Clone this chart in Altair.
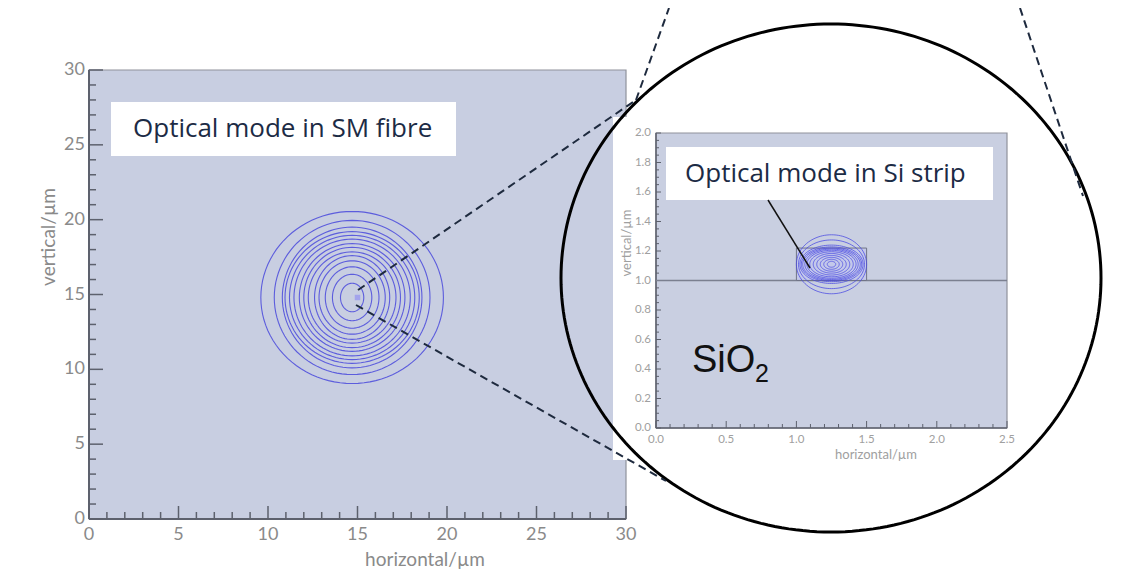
import numpy as np
import pandas as pd
import altair as alt

# ---------------- data ----------------
# SM fibre mode: contour rings (semi-axes in µm), centre in µm
fibre_cx, fibre_cy = 14.7, 14.8
fibre_rx = [5.10, 4.35, 3.90, 3.75, 3.50, 3.25, 2.95, 2.70, 2.45, 2.10, 1.85, 1.50, 1.10, 0.65]
fibre_ry = [5.75, 5.15, 4.70, 4.40, 4.15, 3.90, 3.60, 3.35, 3.05, 2.80, 2.45, 2.05, 1.55, 0.95]
fibre_peak = [15.0, 14.8]

# Si strip mode: contour rings (semi-axes in µm), centre in µm
strip_cx, strip_cy = 1.25, 1.11
strip_rx = [0.250, 0.235, 0.225, 0.215, 0.205, 0.190, 0.175, 0.155, 0.130, 0.105, 0.080, 0.055, 0.030]
strip_ry = [0.200, 0.165, 0.130, 0.118, 0.110, 0.103, 0.095, 0.085, 0.073, 0.060, 0.047, 0.034, 0.020]
strip_x = [1.0, 1.5]
strip_y = [1.0, 1.22]
substrate_top = 1.0

# axes / ticks
main_major = [0, 5, 10, 15, 20, 25, 30]
main_minor = [1, 2, 3, 4, 6, 7, 8, 9, 11, 12, 13, 14, 16, 17, 18, 19, 21, 22, 23, 24, 26, 27, 28, 29]
inset_x_major = [0.0, 0.5, 1.0, 1.5, 2.0, 2.5]
inset_x_minor = [0.1, 0.2, 0.3, 0.4, 0.6, 0.7, 0.8, 0.9, 1.1, 1.2, 1.3, 1.4,
                 1.6, 1.7, 1.8, 1.9, 2.1, 2.2, 2.3, 2.4]
inset_y_major = [0.0, 0.2, 0.4, 0.6, 0.8, 1.0, 1.2, 1.4, 1.6, 1.8, 2.0]
inset_y_minor = [0.05, 0.1, 0.15, 0.25, 0.3, 0.35, 0.45, 0.5, 0.55, 0.65, 0.7, 0.75,
                 0.85, 0.9, 0.95, 1.05, 1.1, 1.15, 1.25, 1.3, 1.35, 1.45, 1.5, 1.55,
                 1.65, 1.7, 1.75, 1.85, 1.9, 1.95]

# ---------------- layout ----------------
W, H = 1114, 566


def px(p):
    return p - 8  # page pixel -> view pixel


def rings(cx, cy, rxs, rys, n=97):
    t = np.linspace(0, 2 * np.pi, n)
    rows = []
    for k, (a, b) in enumerate(zip(rxs, rys)):
        for i, tt in enumerate(t):
            rows.append({"ring": k, "idx": i, "x": cx + a * np.cos(tt), "y": cy + b * np.sin(tt)})
    return pd.DataFrame(rows)


one = pd.DataFrame({"a": [0]})

LABEL_FONT = "Lato"
TEXT_FONT = "Open Sans"
AX = "#5d616d"
LBL = "#8a8a8a"
LBL2 = "#a0a0a0"

MX = alt.Scale(domain=[0, 30], range=[px(89), px(626)], nice=False, zero=False)
MY = alt.Scale(domain=[0, 30], range=[px(519), px(70)], nice=False, zero=False)
IX = alt.Scale(domain=[0, 2.5], range=[px(656), px(1007)], nice=False, zero=False)
IY = alt.Scale(domain=[0, 2.0], range=[px(428), px(133)], nice=False, zero=False)
CX = alt.Scale(domain=[8, 8 + W], range=[0, W], nice=False, zero=False)
CY = alt.Scale(domain=[8, 8 + H], range=[0, H], nice=False, zero=False)


def xticks(vals, scale, y0, length, width=1.5):
    return alt.Chart(pd.DataFrame({"v": vals})).mark_rule(color=AX, strokeWidth=width).encode(
        x=alt.X("v:Q", scale=scale, axis=None),
        y=alt.value(y0), y2=alt.value(y0 - length))


def yticks(vals, scale, x0, length, width=1.5):
    return alt.Chart(pd.DataFrame({"v": vals})).mark_rule(color=AX, strokeWidth=width).encode(
        y=alt.Y("v:Q", scale=scale, axis=None),
        x=alt.value(x0), x2=alt.value(x0 + length))


def xlabels(vals, scale, y0, size, color, fmt):
    return alt.Chart(pd.DataFrame({"v": vals})).mark_text(
        font=LABEL_FONT, fontSize=size, color=color, align="center", baseline="middle").encode(
        x=alt.X("v:Q", scale=scale, axis=None), y=alt.value(y0),
        text=alt.Text("v:Q", format=fmt))


def ylabels(vals, scale, x0, size, color, fmt):
    return alt.Chart(pd.DataFrame({"v": vals})).mark_text(
        font=LABEL_FONT, fontSize=size, color=color, align="right", baseline="middle").encode(
        y=alt.Y("v:Q", scale=scale, axis=None), x=alt.value(x0),
        text=alt.Text("v:Q", format=fmt))


def title(txt, x, y, size, color, angle=0):
    return alt.Chart(one).mark_text(
        font=LABEL_FONT, fontSize=size, color=color, align="center", baseline="middle",
        angle=angle).encode(x=alt.value(x), y=alt.value(y), text=alt.value(txt))


def frame(xs, ys, scale_x, scale_y, fill, width):
    bg = alt.Chart(pd.DataFrame({"x0": [xs[0]], "x1": [xs[1]], "y0": [ys[0]], "y1": [ys[1]]})).mark_rect(
        fill=fill, stroke="#8f929c", strokeWidth=1.2).encode(
        x=alt.X("x0:Q", scale=scale_x, axis=None), x2="x1:Q",
        y=alt.Y("y0:Q", scale=scale_y, axis=None), y2="y1:Q")
    bottom = alt.Chart(pd.DataFrame({"x0": [xs[0]], "x1": [xs[1]], "y": [ys[0]]})).mark_rule(
        color=AX, strokeWidth=width).encode(
        x=alt.X("x0:Q", scale=scale_x, axis=None), x2="x1:Q", y=alt.Y("y:Q", scale=scale_y, axis=None))
    left = alt.Chart(pd.DataFrame({"y0": [ys[0]], "y1": [ys[1]], "x": [xs[0]]})).mark_rule(
        color=AX, strokeWidth=width).encode(
        y=alt.Y("y0:Q", scale=scale_y, axis=None), y2="y1:Q", x=alt.X("x:Q", scale=scale_x, axis=None))
    return [bg, bottom, left]


# ---------------- main plot ----------------
main_rings = alt.Chart(rings(fibre_cx, fibre_cy, fibre_rx, fibre_ry)).mark_line(
    color="#5656dc", strokeWidth=1.1, opacity=0.95).encode(
    x=alt.X("x:Q", scale=MX, axis=None), y=alt.Y("y:Q", scale=MY, axis=None),
    detail="ring:N", order="idx:Q")

main_peak = alt.Chart(pd.DataFrame({"x": [fibre_peak[0]], "y": [fibre_peak[1]]})).mark_square(
    size=30, color="#a3a3ec", opacity=1).encode(
    x=alt.X("x:Q", scale=MX, axis=None), y=alt.Y("y:Q", scale=MY, axis=None))

box1 = alt.Chart(one).mark_rect(fill="white").encode(
    x=alt.value(px(111)), x2=alt.value(px(456)), y=alt.value(px(102)), y2=alt.value(px(156)))
text1 = alt.Chart(one).mark_text(align="left", baseline="middle", font=TEXT_FONT,
                                 fontSize=26, color="#1c2b45").encode(
    x=alt.value(px(133)), y=alt.value(px(129)), text=alt.value("Optical mode in SM fibre"))

main = alt.layer(
    *frame([0, 30], [0, 30], MX, MY, "#c8cee1", 2),
    xticks(main_minor, MX, px(519), 7), xticks(main_major, MX, px(519), 13),
    yticks(main_minor, MY, px(89), 7), yticks(main_major, MY, px(89), 14),
    xlabels(main_major, MX, px(535), 18, LBL, "d"),
    ylabels(main_major, MY, px(85), 18, LBL, "d"),
    title("horizontal/µm", px(425), px(560), 19, LBL),
    title("vertical/µm", px(49), px(237), 19, LBL, angle=270),
    main_rings, main_peak, box1, text1)

# ---------------- inset plot ----------------
inset_paper = alt.Chart(one).mark_rect(fill="white").encode(
    x=alt.value(px(613)), x2=alt.value(px(1012)), y=alt.value(px(117)), y2=alt.value(px(460)))

substrate = alt.Chart(pd.DataFrame({"x0": [0], "x1": [2.5], "y": [substrate_top]})).mark_rule(
    color="#7b8090", strokeWidth=1.5).encode(
    x=alt.X("x0:Q", scale=IX, axis=None), x2="x1:Q", y=alt.Y("y:Q", scale=IY, axis=None))

strip = alt.Chart(pd.DataFrame({"x0": [strip_x[0]], "x1": [strip_x[1]],
                                "y0": [strip_y[0]], "y1": [strip_y[1]]})).mark_rect(
    fill="#c0c4ee", fillOpacity=0.7, stroke="#707486", strokeWidth=1).encode(
    x=alt.X("x0:Q", scale=IX, axis=None), x2="x1:Q",
    y=alt.Y("y0:Q", scale=IY, axis=None), y2="y1:Q")

inset_rings = alt.Chart(rings(strip_cx, strip_cy, strip_rx, strip_ry)).mark_line(
    color="#4a4ae2", strokeWidth=0.9, opacity=0.85).encode(
    x=alt.X("x:Q", scale=IX, axis=None), y=alt.Y("y:Q", scale=IY, axis=None),
    detail="ring:N", order="idx:Q")

box2 = alt.Chart(one).mark_rect(fill="white").encode(
    x=alt.value(px(666)), x2=alt.value(px(993)), y=alt.value(px(147)), y2=alt.value(px(200)))
text2 = alt.Chart(one).mark_text(align="left", baseline="middle", font=TEXT_FONT,
                                 fontSize=26, color="#1c2b45").encode(
    x=alt.value(px(685)), y=alt.value(px(174)), text=alt.value("Optical mode in Si strip"))
pointer = alt.Chart(one).mark_rule(color="#111111", strokeWidth=1.5).encode(
    x=alt.value(px(768)), y=alt.value(px(200)), x2=alt.value(px(810)), y2=alt.value(px(268)))

sio = alt.Chart(one).mark_text(align="left", baseline="alphabetic", font="Liberation Sans",
                               fontSize=38, color="#111111").encode(
    x=alt.value(px(692)), y=alt.value(px(372)), text=alt.value("SiO"))
sio_sub = alt.Chart(one).mark_text(align="left", baseline="alphabetic", font="Liberation Sans",
                                   fontSize=25, color="#111111").encode(
    x=alt.value(px(755)), y=alt.value(px(382)), text=alt.value("2"))

inset = alt.layer(
    inset_paper,
    *frame([0, 2.5], [0, 2.0], IX, IY, "#c9cfe1", 1.5),
    xticks(inset_x_minor, IX, px(428), 4, 1), xticks(inset_x_major, IX, px(428), 7, 1),
    yticks(inset_y_minor, IY, px(656), 3, 1), yticks(inset_y_major, IY, px(656), 5, 1),
    xlabels(inset_x_major, IX, px(440), 11.5, LBL2, ".1f"),
    ylabels(inset_y_major, IY, px(651), 11.5, LBL2, ".1f"),
    title("horizontal/µm", px(876), px(455), 13, LBL2),
    title("vertical/µm", px(627), px(243), 13, LBL2, angle=270),
    substrate, strip, inset_rings, box2, text2, pointer, sio, sio_sub)

# ---------------- magnifier decorations (page pixels) ----------------
lens_cx, lens_cy, lens_rx, lens_ry = 831, 278, 270, 254
tt = np.linspace(0, 2 * np.pi, 241)
lens = pd.DataFrame({"i": np.arange(len(tt)),
                     "x": lens_cx + lens_rx * np.cos(tt),
                     "y": lens_cy + lens_ry * np.sin(tt)})
lens_line = alt.Chart(lens).mark_line(color="#000000", strokeWidth=3).encode(
    x=alt.X("x:Q", scale=CX, axis=None), y=alt.Y("y:Q", scale=CY, axis=None), order="i:Q")

segs = pd.DataFrame({
    "x": [358, 636, 356, 1020], "y": [290, 100, 305, 8],
    "x2": [636, 669, 666, 1083], "y2": [100, 8, 481, 196]})
dashes = alt.Chart(segs).mark_rule(color="#1e2a3e", strokeWidth=2, strokeDash=[8, 5]).encode(
    x=alt.X("x:Q", scale=CX, axis=None), x2="x2:Q",
    y=alt.Y("y:Q", scale=CY, axis=None), y2="y2:Q")

deco = alt.layer(lens_line, dashes)

chart = alt.layer(main, inset, deco).resolve_scale(
    x="independent", y="independent").properties(
    width=W, height=H, autosize=alt.AutoSizeParams(type="none"), padding=0,
    background="#ffffff").configure_view(strokeWidth=0)

chart.save("out.html", embed_options={"renderer": "svg", "actions": False})
